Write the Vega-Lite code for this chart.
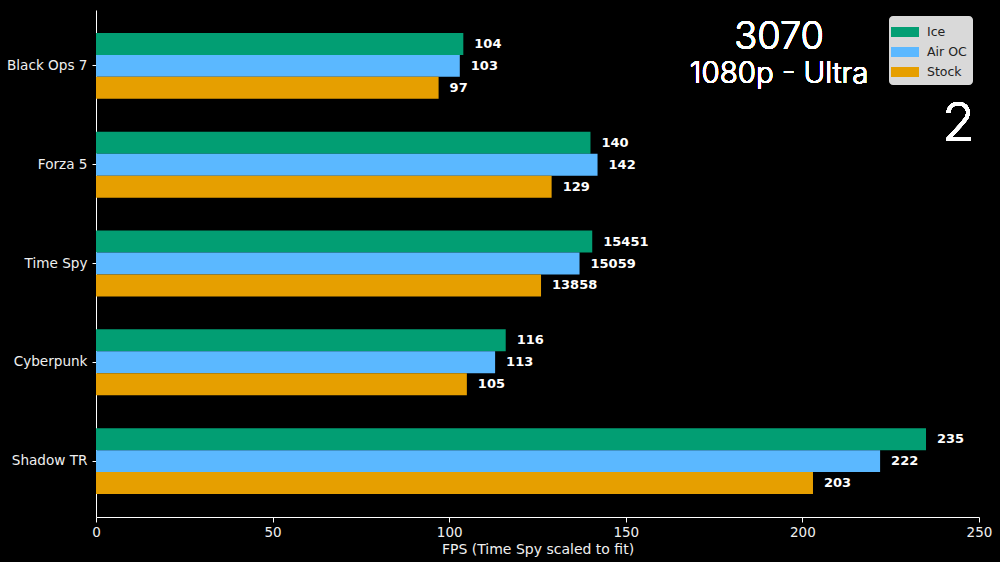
{
  "$schema": "https://vega.github.io/schema/vega-lite/v6.json",
  "width": 883,
  "height": 507,
  "autosize": {"type": "none"},
  "padding": {"left": 96, "top": 10, "right": 21, "bottom": 45},
  "background": "#000000",
  "config": {
    "view": {"stroke": null},
    "font": "DejaVu Sans"
  },
  "data": {
    "values": [
      {"game": "Black Ops 7", "series": "Ice", "value": 104, "label": "104"},
      {"game": "Black Ops 7", "series": "Air OC", "value": 103, "label": "103"},
      {"game": "Black Ops 7", "series": "Stock", "value": 97, "label": "97"},
      {"game": "Forza 5", "series": "Ice", "value": 140, "label": "140"},
      {"game": "Forza 5", "series": "Air OC", "value": 142, "label": "142"},
      {"game": "Forza 5", "series": "Stock", "value": 129, "label": "129"},
      {"game": "Time Spy", "series": "Ice", "value": 140.5, "label": "15451"},
      {"game": "Time Spy", "series": "Air OC", "value": 136.9, "label": "15059"},
      {"game": "Time Spy", "series": "Stock", "value": 126.0, "label": "13858"},
      {"game": "Cyberpunk", "series": "Ice", "value": 116, "label": "116"},
      {"game": "Cyberpunk", "series": "Air OC", "value": 113, "label": "113"},
      {"game": "Cyberpunk", "series": "Stock", "value": 105, "label": "105"},
      {"game": "Shadow TR", "series": "Ice", "value": 235, "label": "235"},
      {"game": "Shadow TR", "series": "Air OC", "value": 222, "label": "222"},
      {"game": "Shadow TR", "series": "Stock", "value": 203, "label": "203"}
    ]
  },
  "layer": [
    {
      "mark": {"type": "bar", "strokeWidth": 0},
      "encoding": {
        "y": {
          "field": "game", "type": "nominal",
          "sort": ["Black Ops 7", "Forza 5", "Time Spy", "Cyberpunk", "Shadow TR"],
          "scale": {"paddingInner": 0.333, "paddingOuter": 0.232},
          "axis": {
            "title": null, "domainColor": "#ffffff", "tickColor": "#ffffff", "tickSize": 4,
            "labelColor": "#f0f0f0", "labelFontSize": 13.6, "labelPadding": 5, "grid": false
          }
        },
        "yOffset": {"field": "series", "type": "nominal", "sort": ["Ice", "Air OC", "Stock"], "scale": {"paddingInner": 0, "paddingOuter": 0}},
        "x": {
          "field": "value", "type": "quantitative",
          "scale": {"domain": [0, 250], "nice": false},
          "axis": {
            "title": "FPS (Time Spy scaled to fit)", "values": [0, 50, 100, 150, 200, 250],
            "domainColor": "#ffffff", "tickColor": "#ffffff", "tickSize": 5,
            "labelColor": "#f0f0f0", "labelFontSize": 13.5, "labelPadding": 3,
            "titleColor": "#f0f0f0", "titleFontSize": 14, "titleFontWeight": "normal", "titlePadding": 4,
            "grid": false, "labelFlush": false
          }
        },
        "color": {
          "field": "series", "type": "nominal",
          "sort": ["Ice", "Air OC", "Stock"],
          "scale": {"domain": ["Ice", "Air OC", "Stock"], "range": ["#029E73", "#5BB8FF", "#E69F00"]},
          "legend": {
            "title": null, "orient": "top-right", "offset": 6,
            "fillColor": "#d9d9d9", "cornerRadius": 4, "padding": 6,
            "symbolType": "M-1.4,-0.5H1.4V0.5H-1.4Z", "symbolSize": 400, "symbolStrokeWidth": 0,
            "symbolOpacity": 1,
            "labelColor": "#222222", "labelFontSize": 12.5, "labelFont": "DejaVu Sans",
            "rowPadding": 3, "labelOffset": 12
          }
        }
      }
    },
    {
      "mark": {"type": "text", "align": "left", "baseline": "middle", "dx": 11, "fontWeight": "bold", "fontSize": 13, "color": "#ffffff"},
      "encoding": {
        "y": {"field": "game", "type": "nominal", "sort": ["Black Ops 7", "Forza 5", "Time Spy", "Cyberpunk", "Shadow TR"]},
        "yOffset": {"field": "series", "type": "nominal", "sort": ["Ice", "Air OC", "Stock"]},
        "x": {"field": "value", "type": "quantitative"},
        "text": {"field": "label", "type": "nominal"}
      }
    },
    {
      "mark": {"type": "text", "align": "center", "baseline": "alphabetic", "dy": -17, "fontSize": 38, "font": "Inter", "fontWeight": 300, "color": "#ffffff", "text": "3070"},
      "encoding": {
        "x": {"datum": 193.4, "type": "quantitative"},
        "y": {"datum": "Black Ops 7", "type": "nominal"}
      }
    },
    {
      "mark": {"type": "text", "align": "center", "baseline": "alphabetic", "dy": 17, "fontSize": 29.5, "font": "Inter", "fontWeight": 300, "color": "#ffffff", "text": "1080p - Ultra"},
      "encoding": {
        "x": {"datum": 193.4, "type": "quantitative"},
        "y": {"datum": "Black Ops 7", "type": "nominal"}
      }
    },
    {
      "mark": {"type": "text", "align": "right", "baseline": "alphabetic", "dy": 75, "fontSize": 54, "font": "Inter", "fontWeight": 300, "color": "#ffffff", "text": "2"},
      "encoding": {
        "x": {"datum": 248.9, "type": "quantitative"},
        "y": {"datum": "Black Ops 7", "type": "nominal"}
      }
    }
  ]
}
